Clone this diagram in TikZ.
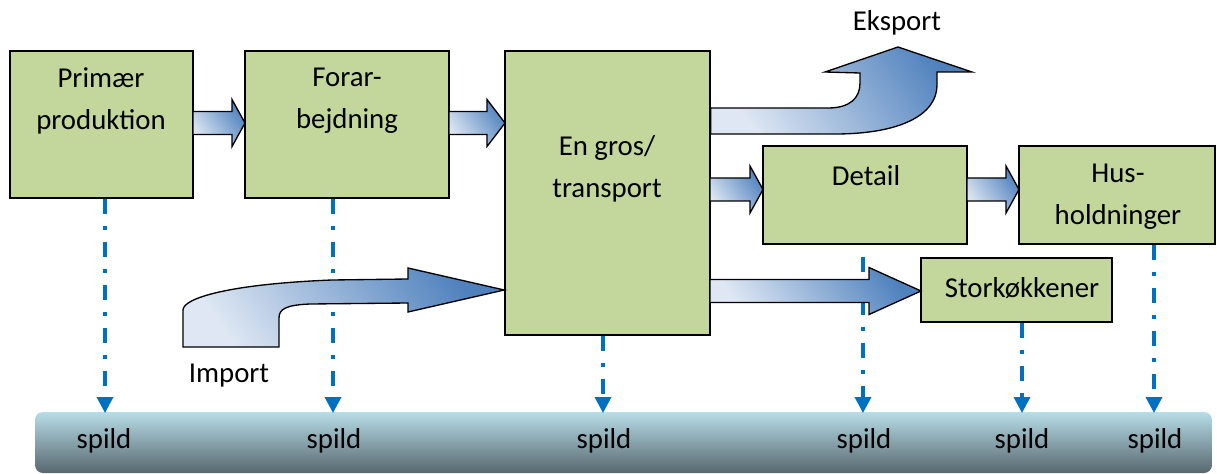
\documentclass[tikz,border=0pt]{standalone}
\usepackage{fontspec}
\setmainfont{Carlito}
\usetikzlibrary{arrows.meta,fit,calc}
\definecolor{boxgreen}{RGB}{195,214,155}
\definecolor{arrdark}{RGB}{79,129,189}
\definecolor{arrlight}{RGB}{222,231,243}
\definecolor{bartop}{RGB}{183,221,232}
\definecolor{barbot}{RGB}{88,103,110}
\definecolor{spildblue}{RGB}{0,112,192}
\newcommand{\blockarr}[4]{%
  \draw[blockarrow] (#1,#4-11.5) -- (#2,#4-11.5) -- (#2,#4-23.5) -- (#3,#4)
    -- (#2,#4+23.5) -- (#2,#4+11.5) -- (#1,#4+11.5) -- cycle;}
\begin{document}
\begin{tikzpicture}[x=0.75pt,y=-0.75pt,
  box/.style={draw=black, line width=1.1pt, fill=boxgreen, inner sep=0pt},
  lbl/.style={font=\fontsize{21.6}{31.5}\selectfont, align=center, inner sep=0pt},
  blockarrow/.style={draw=black, line width=1pt, top color=arrdark, bottom color=arrlight, shading angle=-55},
  waste/.style={draw=spildblue, line width=2.6pt,
    dash pattern=on 11.25pt off 9pt on 3pt off 9pt,
    -{Triangle[width=12pt,length=12pt]}}
]
\useasboundingbox (0,0) rectangle (1217,474);

% spild bar
\node[fit={(35,412) (1212,473)}, inner sep=0pt, rounded corners=6pt,
      top color=bartop, bottom color=barbot] (bar) {};

% boxes
\node[box, fit={(10,51) (193,198)}] (prim) {};
\node[box, fit={(245,51) (449,198)}] (forar) {};
\node[box, fit={(505,51) (710,335)}] (engros) {};
\node[box, fit={(763,146) (967,244)}] (detail) {};
\node[box, fit={(1019,146) (1215,244)}] (hus) {};
\node[box, fit={(921,258) (1112,322)}] (stork) {};

% bar coordinates
\coordinate (s1) at (105,413);
\coordinate (s2) at (333,413);
\coordinate (s3) at (603,413);
\coordinate (s4) at (863,413);
\coordinate (s5) at (1022,413);
\coordinate (s6) at (1154,413);

% waste lines
\draw[waste] (prim.south -| s1) -- (s1);
\draw[waste] (forar.south -| s2) -- (s2);
\draw[waste] (engros.south -| s3) -- (s3);
\draw[waste] ($(detail.south -| s4)+(0,12)$) -- (s4);
\draw[waste] (stork.south -| s5) -- (s5);
\draw[waste] (hus.south -| s6) -- (s6);

% block arrows
\blockarr{193}{232}{245}{123}
\blockarr{449}{487}{505}{123}
\blockarr{710}{750}{763}{189.5}
\blockarr{967}{1006}{1019}{189.5}
\blockarr{710}{869}{921}{291}

% import arrow
\draw[blockarrow] (183,347) -- (183,310) .. controls (183,298) and (230,284) .. (332,280)
  -- (408,279) -- (408,268) -- (engros.west |- 0,290) -- (408,312) -- (408,303)
  -- (310,304) .. controls (286,305) and (279,309) .. (279,318) -- (279,347) -- cycle;

% export arrow
\draw[blockarrow] (engros.east |- 0,108) -- (828,108) .. controls (850,108) and (860,98) .. (860,83)
  -- (860,73) -- (825,72) -- (898,47) -- (972,72) -- (937,72) -- (937,85)
  .. controls (937,115) and (900,134) .. (835,134) -- (engros.east |- 0,134) -- cycle;

% labels
\node[lbl] (tprim) at (101,101) {Primær\\produktion};
\node[lbl] (tforar) at (347,101) {Forar-\\bejdning};
\node[lbl] (tengros) at (607,168.5) {En gros/\\transport};
\node[lbl] (tdetail) at (866,176) {Detail};
\node[lbl] (thus) at (1118,196.5) {Hus-\\holdninger};
\node[lbl] (tstork) at (1022,288) {Storkøkkener};
\node[lbl] (teksport) at (897,23) {Eksport};
\node[lbl] (timport) at (229,376) {Import};

\node[lbl] (w1) at (104,441) {spild};
\node[lbl] (w2) at (334,441) {spild};
\node[lbl] (w3) at (604,441) {spild};
\node[lbl] (w4) at (864,441) {spild};
\node[lbl] (w5) at (1022,441) {spild};
\node[lbl] (w6) at (1155,441) {spild};
\end{tikzpicture}
\end{document}
